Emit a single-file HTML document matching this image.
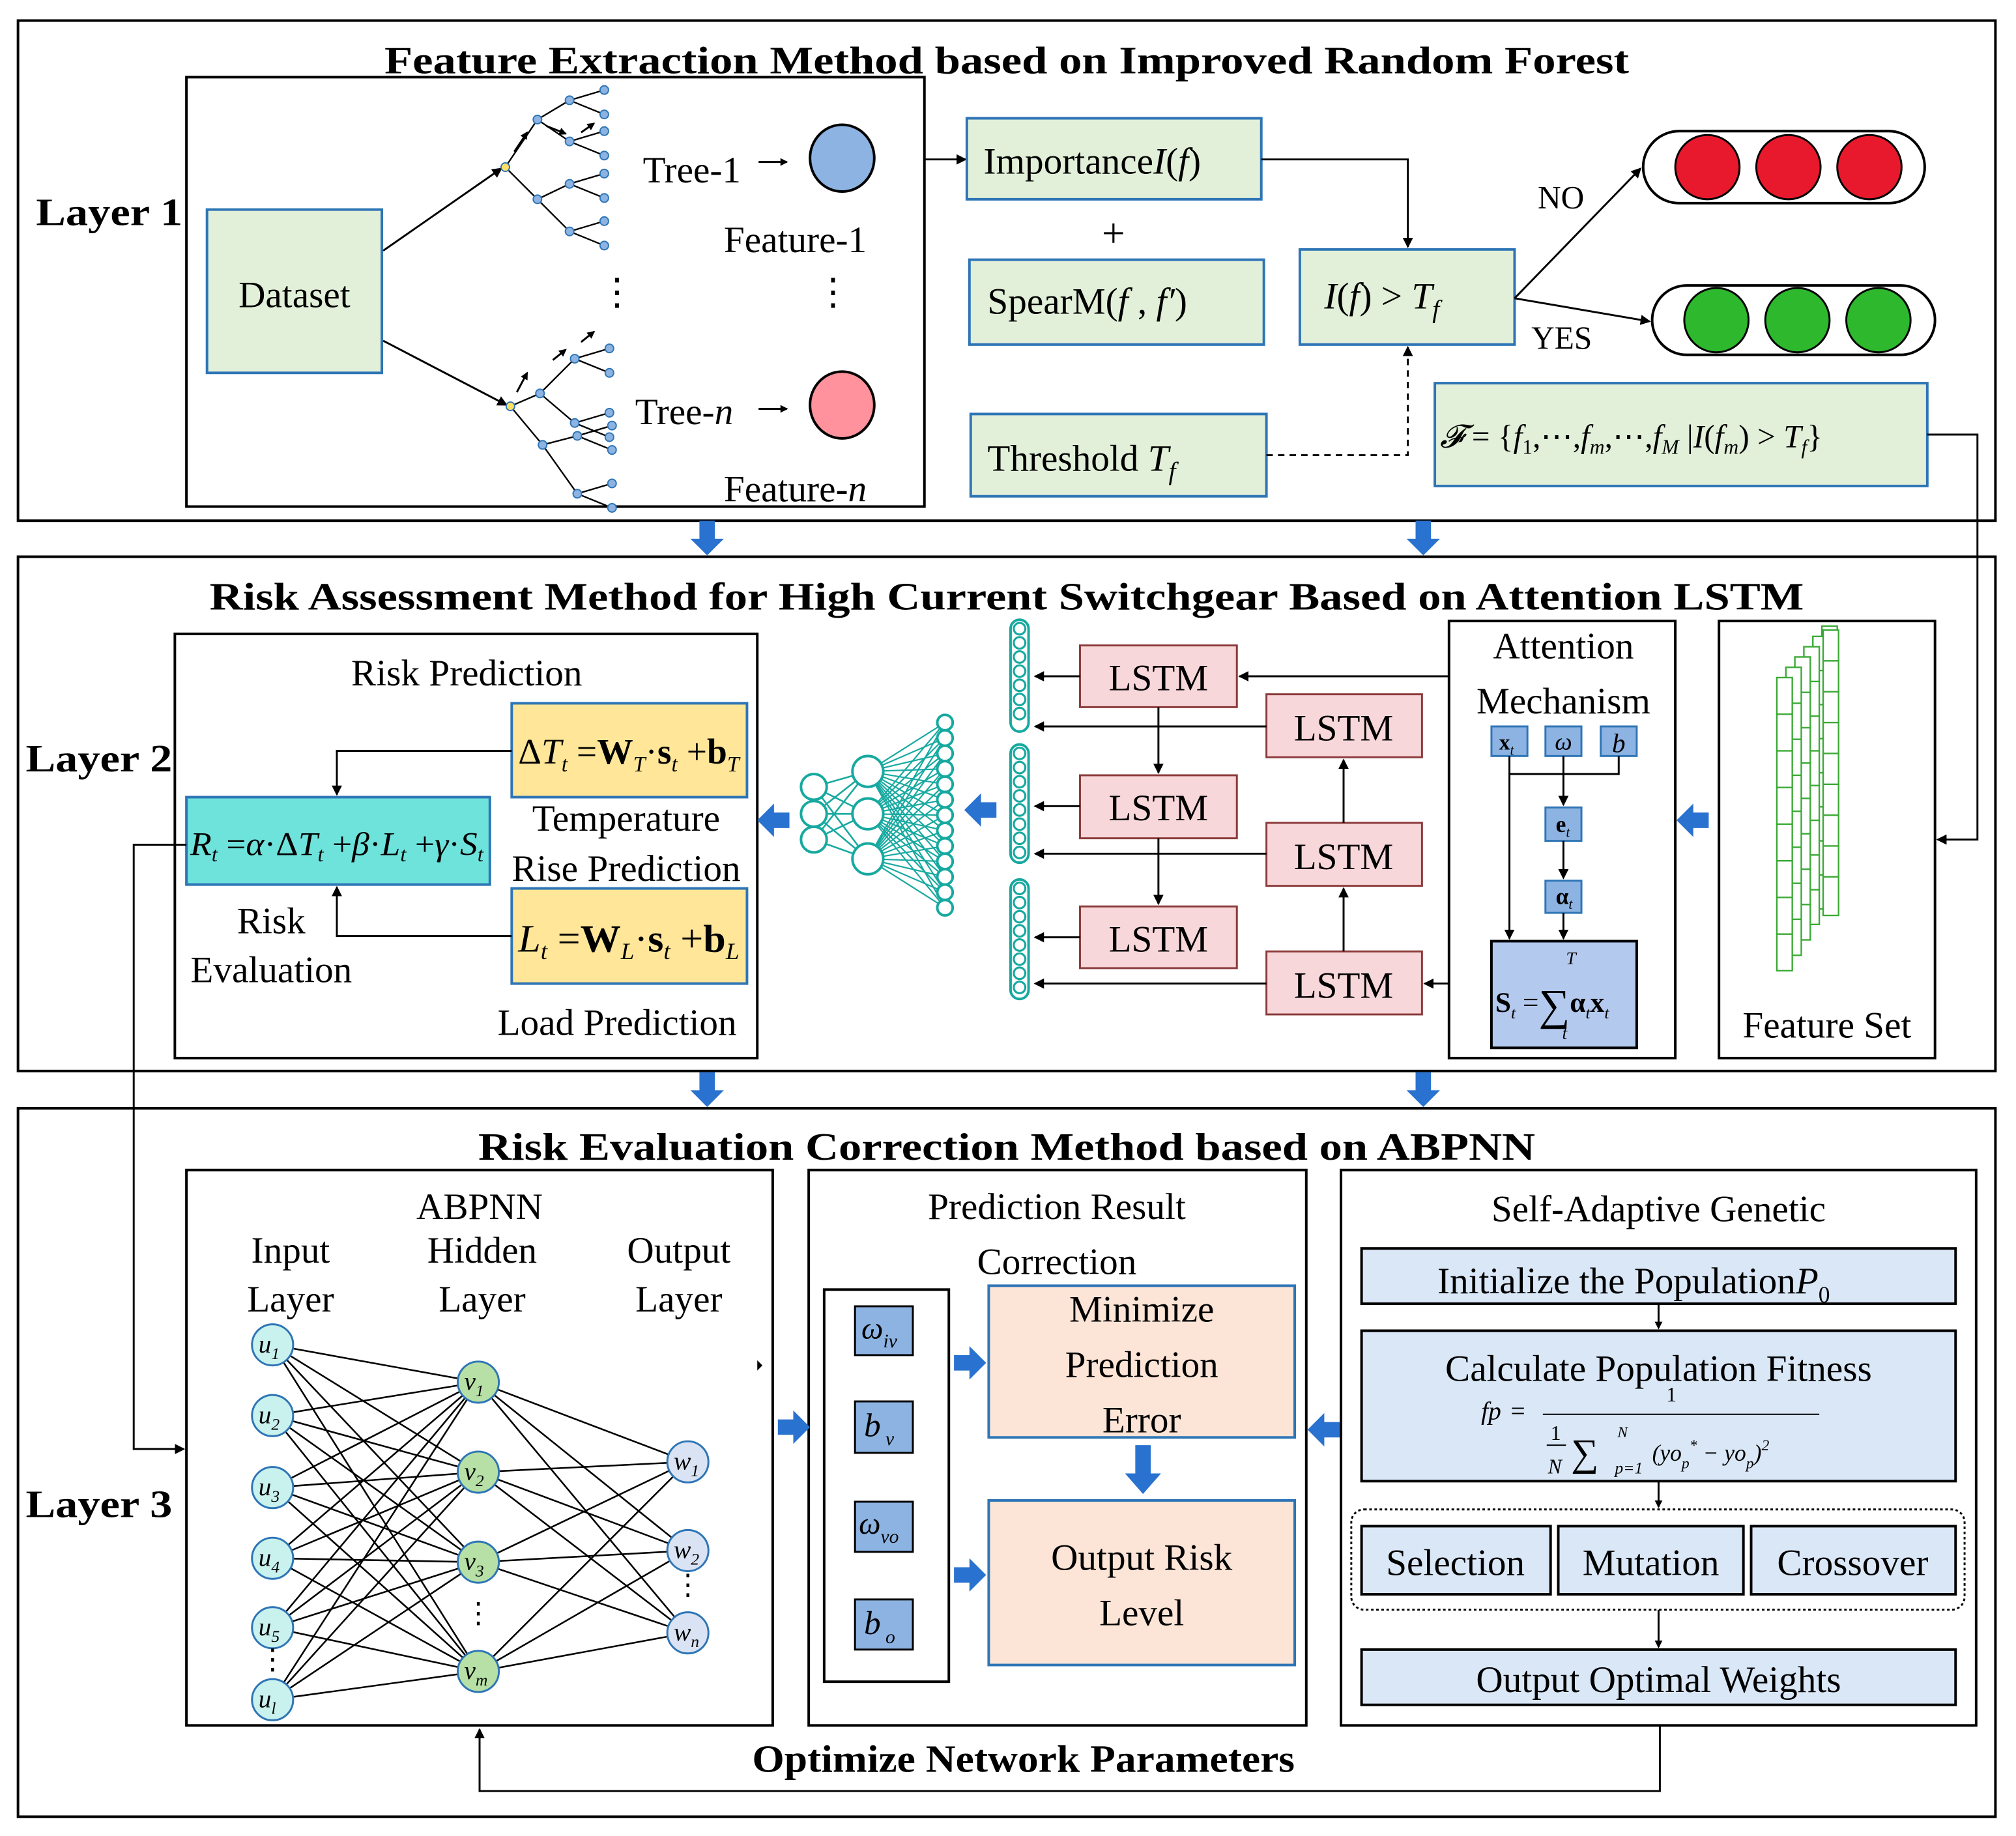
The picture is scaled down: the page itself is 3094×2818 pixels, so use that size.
<!DOCTYPE html>
<html><head><meta charset="utf-8"><style>
html,body{margin:0;padding:0;background:#fff}
svg{display:block}
text{font-family:"Liberation Serif",serif;fill:#000}
.t{font-weight:bold;font-size:30px}
.n{font-size:29px}
.i{font-style:italic}
</style></head><body>
<svg id="s" width="3094" height="2818" viewBox="0 0 1568 1428" preserveAspectRatio="none" xmlns="http://www.w3.org/2000/svg">
<defs>
<marker id="a" markerWidth="8" markerHeight="8" refX="7" refY="4" orient="auto" markerUnits="userSpaceOnUse"><path d="M0,0 L8,4 L0,8 z" fill="#000"/></marker>
<marker id="as" markerWidth="6" markerHeight="6" refX="5" refY="3" orient="auto" markerUnits="userSpaceOnUse"><path d="M0,0 L6,3 L0,6 z" fill="#000"/></marker>
</defs>
<g fill="none" stroke="#000" stroke-width="2">
<rect x="14" y="16" width="1538" height="389"/>
<rect x="14" y="433" width="1538" height="400"/>
<rect x="14" y="862" width="1538" height="551"/>
<rect x="145" y="60" width="574" height="334"/>
<rect x="136" y="493" width="453" height="330"/>
<rect x="1127" y="483" width="176" height="340"/>
<rect x="1337" y="483" width="168" height="340"/>
<rect x="145" y="910" width="456" height="432"/>
<rect x="629" y="910" width="387" height="432"/>
<rect x="641" y="1003" width="97" height="305"/>
<rect x="1043" y="910" width="494" height="432"/>
</g>
<!-- Titles -->
<text class="t" x="783" y="57" text-anchor="middle" textLength="968" lengthAdjust="spacingAndGlyphs">Feature Extraction Method based on Improved Random Forest</text>
<text class="t" x="783" y="474" text-anchor="middle" textLength="1240" lengthAdjust="spacingAndGlyphs">Risk Assessment Method for High Current Switchgear Based on Attention LSTM</text>
<text class="t" x="783" y="902" text-anchor="middle" textLength="822" lengthAdjust="spacingAndGlyphs">Risk Evaluation Correction Method based on ABPNN</text>
<text class="t" x="28" y="175" textLength="114" lengthAdjust="spacingAndGlyphs">Layer 1</text>
<text class="t" x="20" y="600" textLength="114" lengthAdjust="spacingAndGlyphs">Layer 2</text>
<text class="t" x="20" y="1180" textLength="114" lengthAdjust="spacingAndGlyphs">Layer 3</text>

<!-- Layer 1 -->
<rect x="161" y="163" width="136" height="127" fill="#e2f0d9" stroke="#2e75b6" stroke-width="2"/>
<text class="n" x="229" y="239" text-anchor="middle">Dataset</text>
<g stroke="#000" stroke-width="1.5" fill="none">
<line x1="298" y1="195" x2="390" y2="131" marker-end="url(#a)"/>
<line x1="298" y1="265" x2="394" y2="315" marker-end="url(#a)"/>
</g>
<g id="trees"></g>
<text class="n" x="500" y="142">Tree-1</text>
<text class="n" x="494" y="330">Tree-<tspan class="i">n</tspan></text>
<g stroke="#000" stroke-width="1.5"><line x1="590" y1="126" x2="612" y2="126" marker-end="url(#as)"/><line x1="590" y1="318" x2="612" y2="318" marker-end="url(#as)"/></g>
<ellipse cx="655" cy="123" rx="25" ry="26" fill="#8db3e2" stroke="#000" stroke-width="2"/>
<ellipse cx="655" cy="315" rx="25" ry="26" fill="#ff929c" stroke="#000" stroke-width="2"/>
<text class="n" x="563" y="196">Feature-1</text>
<text class="n" x="563" y="390">Feature-<tspan class="i">n</tspan></text>
<text class="n" x="480" y="237" text-anchor="middle">⋮</text>
<text class="n" x="648" y="237" text-anchor="middle">⋮</text>
<line x1="719" y1="124" x2="751" y2="124" stroke="#000" stroke-width="1.5" marker-end="url(#a)"/>
<g fill="#e2f0d9" stroke="#2e75b6" stroke-width="2">
<rect x="752" y="92" width="229" height="63"/>
<rect x="754" y="202" width="229" height="66"/>
<rect x="755" y="322" width="230" height="64"/>
<rect x="1011" y="194" width="167" height="74"/>
<rect x="1116" y="298" width="383" height="80"/>
</g>
<text class="n" x="765" y="135">Importance<tspan class="i">I</tspan>(<tspan class="i">f</tspan>)</text>
<text x="866" y="192" font-size="32" text-anchor="middle">+</text>
<text class="n" x="768" y="244">SpearM(<tspan class="i">f</tspan> , <tspan class="i">f′</tspan>)</text>
<text class="n" x="768" y="366">Threshold <tspan class="i">T<tspan font-size="20" dy="7">f</tspan></tspan></text>
<text class="n" x="1030" y="240"><tspan class="i">I</tspan>(<tspan class="i">f</tspan>) &gt; <tspan class="i">T</tspan><tspan class="i" font-size="20" dy="7">f</tspan></text>
<text x="1120" y="348" font-size="25"><tspan class="i">𝓕</tspan> = {<tspan class="i">f</tspan><tspan font-size="16" dy="5">1</tspan><tspan dy="-5">,⋯,</tspan><tspan class="i">f</tspan><tspan class="i" font-size="16" dy="5">m</tspan><tspan dy="-5">,⋯,</tspan><tspan class="i">f</tspan><tspan class="i" font-size="16" dy="5">M</tspan><tspan dy="-5"> |</tspan><tspan class="i">I</tspan>(<tspan class="i">f</tspan><tspan class="i" font-size="16" dy="5">m</tspan><tspan dy="-5">) &gt; </tspan><tspan class="i">T</tspan><tspan class="i" font-size="16" dy="5">f</tspan><tspan dy="-5">}</tspan></text>
<g stroke="#000" stroke-width="1.5" fill="none">
<polyline points="981,124 1095,124 1095,192" marker-end="url(#a)"/>
<polyline points="985,354 1095,354 1095,270" stroke-dasharray="5,4" marker-end="url(#a)"/>
<line x1="1178" y1="232" x2="1276" y2="131" marker-end="url(#a)"/>
<line x1="1178" y1="232" x2="1283" y2="250" marker-end="url(#a)"/>
<polyline points="1499,338 1538,338 1538,653 1507,653" marker-end="url(#a)"/>
</g>
<text x="1196" y="162" font-size="25">NO</text>
<text x="1191" y="271" font-size="25">YES</text>
<rect x="1278" y="102" width="219" height="56" rx="28" fill="#fff" stroke="#000" stroke-width="2"/>
<rect x="1285" y="222" width="220" height="54" rx="27" fill="#fff" stroke="#000" stroke-width="2"/>
<g stroke="#000" stroke-width="1.5">
<circle cx="1328" cy="130" r="25" fill="#e8192c"/><circle cx="1391" cy="130" r="25" fill="#e8192c"/><circle cx="1454" cy="130" r="25" fill="#e8192c"/>
<circle cx="1335" cy="249" r="25" fill="#2db82d"/><circle cx="1398" cy="249" r="25" fill="#2db82d"/><circle cx="1461" cy="249" r="25" fill="#2db82d"/>
</g>

<!-- Layer 2 -->
<text class="n" x="363" y="533" text-anchor="middle">Risk Prediction</text>
<rect x="398" y="547" width="183" height="73" fill="#ffe699" stroke="#2e75b6" stroke-width="2"/>
<rect x="398" y="691" width="183" height="74" fill="#ffe699" stroke="#2e75b6" stroke-width="2"/>
<rect x="145" y="620" width="236" height="68" fill="#6ee3dc" stroke="#2e75b6" stroke-width="2"/>
<text x="403" y="594" font-size="28" textLength="172" lengthAdjust="spacingAndGlyphs">Δ<tspan class="i">T</tspan><tspan class="i" font-size="17" dy="6">t</tspan><tspan dy="-6"> =</tspan><tspan font-weight="bold">W</tspan><tspan class="i" font-size="17" dy="6">T</tspan><tspan dy="-6">·</tspan><tspan font-weight="bold">s</tspan><tspan class="i" font-size="17" dy="6">t</tspan><tspan dy="-6"> +</tspan><tspan font-weight="bold">b</tspan><tspan class="i" font-size="17" dy="6">T</tspan></text>
<text x="403" y="740" font-size="30" textLength="172" lengthAdjust="spacingAndGlyphs"><tspan class="i">L</tspan><tspan class="i" font-size="18" dy="6">t</tspan><tspan dy="-6"> =</tspan><tspan font-weight="bold">W</tspan><tspan class="i" font-size="18" dy="6">L</tspan><tspan dy="-6">·</tspan><tspan font-weight="bold">s</tspan><tspan class="i" font-size="18" dy="6">t</tspan><tspan dy="-6"> +</tspan><tspan font-weight="bold">b</tspan><tspan class="i" font-size="18" dy="6">L</tspan></text>
<text x="148" y="665" font-size="26" textLength="228" lengthAdjust="spacingAndGlyphs"><tspan class="i">R</tspan><tspan class="i" font-size="16" dy="5">t</tspan><tspan dy="-5"> =</tspan><tspan class="i">α</tspan>·Δ<tspan class="i">T</tspan><tspan class="i" font-size="16" dy="5">t</tspan><tspan dy="-5"> +</tspan><tspan class="i">β</tspan>·<tspan class="i">L</tspan><tspan class="i" font-size="16" dy="5">t</tspan><tspan dy="-5"> +</tspan><tspan class="i">γ</tspan>·<tspan class="i">S</tspan><tspan class="i" font-size="16" dy="5">t</tspan></text>
<text class="n" x="487" y="646" text-anchor="middle">Temperature</text>
<text class="n" x="487" y="685" text-anchor="middle">Rise  Prediction</text>
<text class="n" x="480" y="805" text-anchor="middle">Load Prediction</text>
<text class="n" x="211" y="726" text-anchor="middle">Risk</text>
<text class="n" x="211" y="764" text-anchor="middle">Evaluation</text>
<g stroke="#000" stroke-width="1.5" fill="none">
<polyline points="398,584 262,584 262,618" marker-end="url(#a)"/>
<polyline points="398,728 262,728 262,690" marker-end="url(#a)"/>
<polyline points="145,657 104,657 104,1127 143,1127" marker-end="url(#a)"/>
</g>
<g id="nn"></g>
<g id="chains"></g>
<g fill="#f8d7da" stroke="#8b3a3a" stroke-width="1.5">
<rect x="840" y="502" width="122" height="48"/><rect x="840" y="603" width="122" height="49"/><rect x="840" y="705" width="122" height="48"/>
<rect x="985" y="540" width="121" height="49"/><rect x="985" y="640" width="121" height="49"/><rect x="985" y="740" width="121" height="49"/>
</g>
<g class="n" text-anchor="middle">
<text class="n" x="901" y="537">LSTM</text><text class="n" x="901" y="638">LSTM</text><text class="n" x="901" y="740">LSTM</text>
<text class="n" x="1045" y="576">LSTM</text><text class="n" x="1045" y="676">LSTM</text><text class="n" x="1045" y="776">LSTM</text>
</g>
<g stroke="#000" stroke-width="1.5" fill="none">
<line x1="1127" y1="526" x2="964" y2="526" marker-end="url(#a)"/>
<line x1="840" y1="526" x2="805" y2="526" marker-end="url(#a)"/>
<line x1="840" y1="627" x2="805" y2="627" marker-end="url(#a)"/>
<line x1="840" y1="729" x2="805" y2="729" marker-end="url(#a)"/>
<line x1="985" y1="565" x2="805" y2="565" marker-end="url(#a)"/>
<line x1="985" y1="664" x2="805" y2="664" marker-end="url(#a)"/>
<line x1="985" y1="765" x2="805" y2="765" marker-end="url(#a)"/>
<line x1="901" y1="550" x2="901" y2="601" marker-end="url(#a)"/>
<line x1="901" y1="652" x2="901" y2="703" marker-end="url(#a)"/>
<line x1="1045" y1="740" x2="1045" y2="691" marker-end="url(#a)"/>
<line x1="1045" y1="640" x2="1045" y2="591" marker-end="url(#a)"/>
<line x1="1127" y1="765" x2="1108" y2="765" marker-end="url(#a)"/>
</g>
<text class="n" x="1216" y="512" text-anchor="middle">Attention</text>
<text class="n" x="1216" y="555" text-anchor="middle">Mechanism</text>
<g fill="#8db3e2" stroke="#2e75b6" stroke-width="1.5">
<rect x="1160" y="565" width="28" height="23"/><rect x="1202" y="565" width="28" height="23"/><rect x="1245" y="565" width="28" height="23"/>
<rect x="1202" y="628" width="28" height="26"/><rect x="1202" y="685" width="28" height="25"/>
</g>
<rect x="1160" y="732" width="113" height="83" fill="#b4c9ee" stroke="#000" stroke-width="2"/>
<text x="1166" y="583" font-size="17" font-weight="bold">x<tspan font-size="11" font-style="italic" font-weight="normal" dy="4">t</tspan></text>
<text x="1216" y="583" font-size="19" class="i" text-anchor="middle">ω</text>
<text x="1259" y="585" font-size="21" class="i" text-anchor="middle">b</text>
<text x="1210" y="647" font-size="18" font-weight="bold">e<tspan font-size="11" font-style="italic" font-weight="normal" dy="4">t</tspan></text>
<text x="1210" y="703" font-size="18" font-weight="bold">α<tspan font-size="11" font-style="italic" font-weight="normal" dy="4">t</tspan></text>
<text x="1218" y="750" font-size="14" class="i">T</text>
<text x="1163" y="787" font-size="22"><tspan font-weight="bold">S</tspan><tspan class="i" font-size="13" dy="5">t</tspan><tspan dy="-5"> =</tspan><tspan font-size="34" dy="6">∑</tspan><tspan font-weight="bold" dy="-6">α</tspan><tspan class="i" font-size="13" dy="5">t</tspan><tspan font-weight="bold" dy="-5">x</tspan><tspan class="i" font-size="13" dy="5">t</tspan></text>
<text x="1215" y="808" font-size="14" class="i">t</text>
<g stroke="#000" stroke-width="1.5" fill="none">
<line x1="1174" y1="588" x2="1174" y2="730" marker-end="url(#a)"/>
<line x1="1216" y1="588" x2="1216" y2="626" marker-end="url(#a)"/>
<polyline points="1174,602 1259,602 1259,588"/>
<line x1="1216" y1="654" x2="1216" y2="683" marker-end="url(#a)"/>
<line x1="1216" y1="710" x2="1216" y2="730" marker-end="url(#a)"/>
</g>
<g id="fs" fill="#fff" stroke="#3aaa35" stroke-width="1.2"></g>
<text class="n" x="1421" y="807" text-anchor="middle">Feature Set</text>

<!-- Layer 3 -->
<text class="n" x="373" y="948" text-anchor="middle">ABPNN</text>
<text class="n" x="226" y="982" text-anchor="middle">Input</text>
<text class="n" x="226" y="1020" text-anchor="middle">Layer</text>
<text class="n" x="375" y="982" text-anchor="middle">Hidden</text>
<text class="n" x="375" y="1020" text-anchor="middle">Layer</text>
<text class="n" x="528" y="982" text-anchor="middle">Output</text>
<text class="n" x="528" y="1020" text-anchor="middle">Layer</text>
<g id="ab"></g>
<text class="n" x="822" y="948" text-anchor="middle">Prediction Result</text>
<text class="n" x="822" y="991" text-anchor="middle">Correction</text>
<g fill="#8db3e2" stroke="#000" stroke-width="1.5">
<rect x="665" y="1016" width="45" height="38"/><rect x="665" y="1090" width="45" height="40"/><rect x="665" y="1168" width="45" height="39"/><rect x="665" y="1244" width="45" height="39"/>
</g>
<text x="670" y="1041" font-size="24" class="i">ω<tspan font-size="15" dy="7">iv</tspan></text>
<text x="672" y="1117" font-size="26" class="i">b<tspan font-size="15" dy="7"> v</tspan></text>
<text x="668" y="1193" font-size="24" class="i">ω<tspan font-size="15" dy="7">vo</tspan></text>
<text x="672" y="1271" font-size="26" class="i">b<tspan font-size="15" dy="7"> o</tspan></text>
<rect x="769" y="1000" width="238" height="118" fill="#fce4d6" stroke="#2e75b6" stroke-width="2"/>
<rect x="769" y="1167" width="238" height="128" fill="#fce4d6" stroke="#2e75b6" stroke-width="2"/>
<text class="n" x="888" y="1028" text-anchor="middle">Minimize</text>
<text class="n" x="888" y="1071" text-anchor="middle">Prediction</text>
<text class="n" x="888" y="1114" text-anchor="middle">Error</text>
<text class="n" x="888" y="1221" text-anchor="middle">Output Risk</text>
<text class="n" x="888" y="1264" text-anchor="middle">Level</text>
<text class="n" x="1290" y="950" text-anchor="middle">Self-Adaptive Genetic</text>
<g fill="#dae7f7" stroke="#000" stroke-width="2">
<rect x="1059" y="971" width="462" height="43"/>
<rect x="1059" y="1035" width="462" height="117"/>
<rect x="1059" y="1187" width="147" height="53"/><rect x="1212" y="1187" width="144" height="53"/><rect x="1362" y="1187" width="159" height="53"/>
<rect x="1059" y="1283" width="462" height="43"/>
</g>
<rect x="1051" y="1174" width="477" height="78" rx="10" fill="none" stroke="#000" stroke-width="1.5" stroke-dasharray="2,2"/>
<text class="n" x="1118" y="1006">Initialize the Population<tspan class="i">P</tspan><tspan font-size="18" dy="7">0</tspan></text>
<text class="n" x="1290" y="1074" text-anchor="middle">Calculate Population Fitness</text>
<text x="1152" y="1104" font-size="20" class="i">fp</text><text x="1175" y="1104" font-size="20">=</text>
<text x="1300" y="1090" font-size="16" text-anchor="middle">1</text>
<line x1="1200" y1="1100" x2="1415" y2="1100" stroke="#000" stroke-width="1"/>
<text x="1206" y="1120" font-size="16">1</text><line x1="1203" y1="1124" x2="1218" y2="1124" stroke="#000" stroke-width="1"/><text x="1204" y="1146" font-size="16" class="i">N</text>
<text x="1222" y="1140" font-size="30">∑</text><text x="1258" y="1118" font-size="12" class="i">N</text><text x="1256" y="1146" font-size="13" class="i">p=1</text>
<text x="1285" y="1136" font-size="18" class="i">(yo<tspan font-size="12" dy="6">p</tspan><tspan font-size="12" dy="-14">*</tspan><tspan dy="8"> − yo</tspan><tspan font-size="12" dy="6">p</tspan><tspan dy="-6">)</tspan><tspan font-size="12" dy="-8">2</tspan></text>
<text class="n" x="1132" y="1225" text-anchor="middle">Selection</text>
<text class="n" x="1284" y="1225" text-anchor="middle">Mutation</text>
<text class="n" x="1441" y="1225" text-anchor="middle">Crossover</text>
<text class="n" x="1290" y="1316" text-anchor="middle">Output Optimal Weights</text>
<g stroke="#000" stroke-width="1.5" fill="none">
<line x1="1290" y1="1014" x2="1290" y2="1033" marker-end="url(#as)"/>
<line x1="1290" y1="1152" x2="1290" y2="1172" marker-end="url(#as)"/>
<line x1="1290" y1="1252" x2="1290" y2="1281" marker-end="url(#as)"/>
<polyline points="1291,1342 1291,1393 373,1393 373,1345" marker-end="url(#a)"/>
</g>
<text class="t" x="796" y="1378" text-anchor="middle" textLength="422" lengthAdjust="spacingAndGlyphs">Optimize Network Parameters</text>
<path d="M589,1058 l4,4 l-4,4 z" fill="#000"/>
<g id="ba" fill="#2a72cf"></g>
</svg>
<script>
var NS="http://www.w3.org/2000/svg";
function el(p,t,a){var e=document.createElementNS(NS,t);for(var k in a)e.setAttribute(k,a[k]);document.getElementById(p).appendChild(e);return e;}
function tree(rx,ry,up){
 var g="trees";var n1=[rx+25,ry-37],n2=[rx+25,ry+25];
 var kids=[[n1,[[n1[0]+25,n1[1]-15],[n1[0]+25,n1[1]+17]]],[n2,[[n2[0]+25,n2[1]-12],[n2[0]+25,n2[1]+25]]]];
 if(!up){n1=[rx+23,ry-10];n2=[rx+25,ry+30];kids=[[n1,[[n1[0]+27,n1[1]-27],[n1[0]+27,n1[1]+23]]],[n2,[[n2[0]+27,n2[1]-7],[n2[0]+27,n2[1]+38]]]];}
 var pts=[];
 kids.forEach(function(k){el(g,"line",{x1:rx,y1:ry,x2:k[0][0],y2:k[0][1],stroke:"#000","stroke-width":1.2});
  k[1].forEach(function(c){el(g,"line",{x1:k[0][0],y1:k[0][1],x2:c[0],y2:c[1],stroke:"#000","stroke-width":1.2});
   [[c[0]+27,c[1]-8],[c[0]+27,c[1]+11]].forEach(function(l){el(g,"line",{x1:c[0],y1:c[1],x2:l[0],y2:l[1],stroke:"#000","stroke-width":1.2});pts.push(l);});pts.push(c);});pts.push(k[0]);});
 pts.forEach(function(p){el(g,"circle",{cx:p[0],cy:p[1],r:3.3,fill:"#8db3e2",stroke:"#2e75b6","stroke-width":1});});
 el(g,"circle",{cx:rx,cy:ry,r:3.3,fill:"#ffe066",stroke:"#2e75b6","stroke-width":1});
}
tree(393,130,true);tree(397,316,false);
[[400,118,410,103],[425,98,440,104],[452,103,462,96],[402,305,410,290],[430,280,440,272],[452,266,462,258]].forEach(function(a){el("trees","line",{x1:a[0],y1:a[1],x2:a[2],y2:a[3],stroke:"#000","stroke-width":1.5,"marker-end":"url(#as)"});});
var inp=[[633,612],[633,633],[633,653]],mid=[[675,600],[675,633],[675,668]],out=[];
for(var i=0;i<13;i++)out.push([735,562+i*12]);
inp.forEach(function(a){mid.forEach(function(b){el("nn","line",{x1:a[0],y1:a[1],x2:b[0],y2:b[1],stroke:"#17a9a0","stroke-width":1.3});});});
mid.forEach(function(a){out.forEach(function(b){el("nn","line",{x1:a[0],y1:a[1],x2:b[0],y2:b[1],stroke:"#17a9a0","stroke-width":1.1});});});
inp.forEach(function(a){el("nn","circle",{cx:a[0],cy:a[1],r:10,fill:"#fff",stroke:"#17a9a0","stroke-width":2});});
mid.forEach(function(a){el("nn","circle",{cx:a[0],cy:a[1],r:12,fill:"#fff",stroke:"#17a9a0","stroke-width":2});});
out.forEach(function(a){el("nn","circle",{cx:a[0],cy:a[1],r:6,fill:"#fff",stroke:"#17a9a0","stroke-width":2});});
[[486,565],[583,667],[688,773]].forEach(function(r){el("chains","rect",{x:786,y:r[0]-4,width:14,height:r[1]-r[0]+8,rx:7,fill:"#fff",stroke:"#17a9a0","stroke-width":2});for(var y=r[0]+3;y<=r[1]-3;y+=11)el("chains","circle",{cx:793,cy:y,r:4.5,fill:"#fff",stroke:"#17a9a0","stroke-width":1.6});});
for(var k=5;k>=0;k--){var x=1382+k*7,y=527-k*8,h=228-k*4;el("fs","rect",{x:x,y:y,width:12,height:h});for(var j=1;j<8;j++)el("fs","line",{x1:x,y1:y+j*h/8,x2:x+12,y2:y+j*h/8});}
el("fs","rect",{x:1418,y:490,width:12,height:222});for(var j=1;j<9;j++)el("fs","line",{x1:1418,y1:490+j*24,x2:1430,y2:490+j*24});
var I=[[212,1046],[212,1101],[212,1157],[212,1212],[212,1266],[212,1322]],H=[[372,1075],[372,1145],[372,1215],[372,1300]],O=[[535,1137],[535,1206],[535,1270]];
I.forEach(function(a){H.forEach(function(b){el("ab","line",{x1:a[0],y1:a[1],x2:b[0],y2:b[1],stroke:"#000","stroke-width":1.3});});});
H.forEach(function(a){O.forEach(function(b){el("ab","line",{x1:a[0],y1:a[1],x2:b[0],y2:b[1],stroke:"#000","stroke-width":1.3});});});
function node(p,fill,lab,sub){el("ab","circle",{cx:p[0],cy:p[1],r:16,fill:fill,stroke:"#2e75b6","stroke-width":1.5});var t=el("ab","text",{x:p[0]-11,y:p[1]+6,"font-size":20,"font-style":"italic"});t.textContent=lab;var s=document.createElementNS(NS,"tspan");s.setAttribute("font-size",13);s.setAttribute("dy",5);s.textContent=sub;t.appendChild(s);}
var il=["1","2","3","4","5","l"];I.forEach(function(p,i){node(p,"#c9f1ee","u",il[i]);});
var hl=["1","2","3","m"];H.forEach(function(p,i){node(p,"#b6e0a5","v",hl[i]);});
var ol=["1","2","n"];O.forEach(function(p,i){node(p,"#dae3f3","w",ol[i]);});
[[212,1298],[372,1262],[535,1240]].forEach(function(p){var t=el("ab","text",{x:p[0],y:p[1],"font-size":22,"text-anchor":"middle"});t.textContent="⋮";});
function down(cx,y){el("ba","path",{d:"M"+(cx-6)+","+y+" h12 v14 h7 l-13,13 l-13,-13 h7 z"});}
function left(x,cy){el("ba","path",{d:"M"+x+","+cy+" l13,-13 v7 h12 v12 h-12 v7 z"});}
function right(x,cy){el("ba","path",{d:"M"+x+","+cy+" l-13,-13 v7 h-12 v12 h12 v7 z"});}
down(550,405);down(1107,405);down(550,834);down(1107,834);
left(589,638);left(750,630);left(1304,638);left(1017,1112);
right(630,1110);right(767,1060);right(767,1225);
el("ba","path",{d:"M883,1124 h12 v22 h8 l-14,16 l-14,-16 h8 z"});
</script>
</body></html>
